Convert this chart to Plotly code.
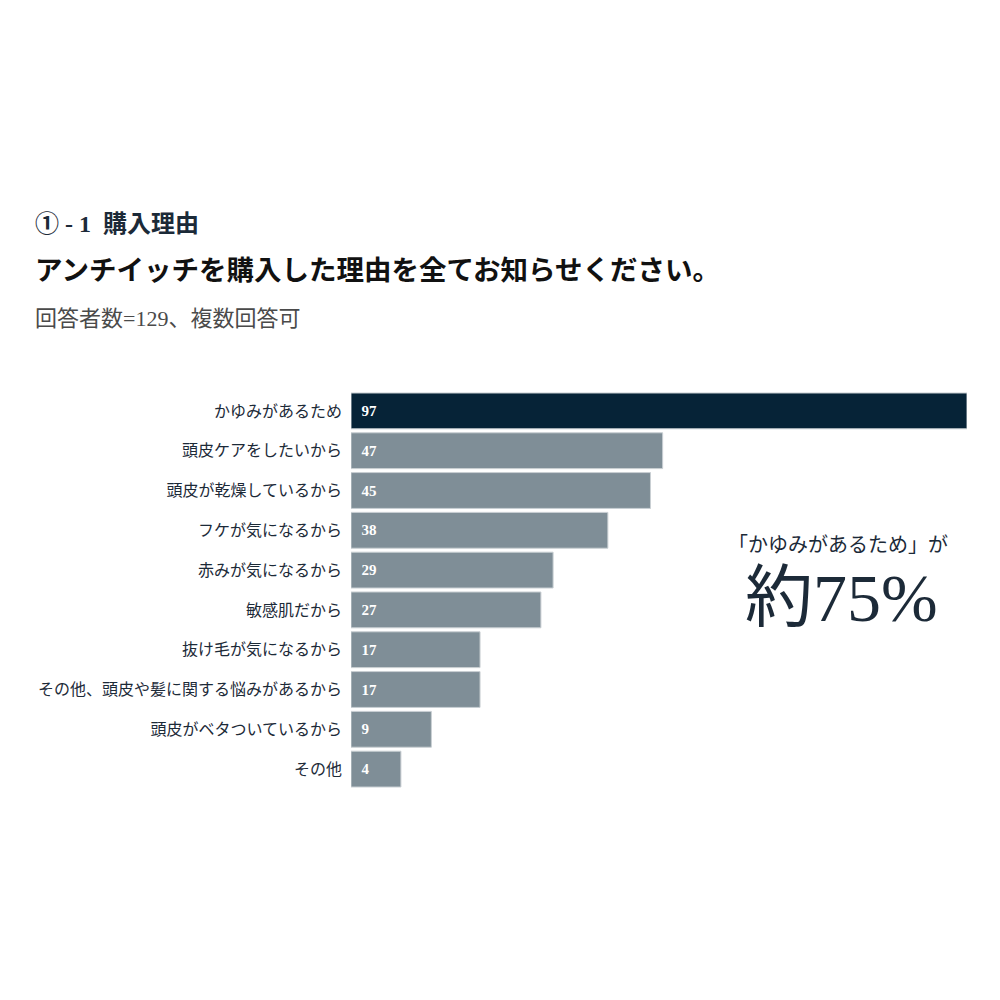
import plotly.graph_objects as go

reasons = [
    "かゆみがあるため",
    "頭皮ケアをしたいから",
    "頭皮が乾燥しているから",
    "フケが気になるから",
    "赤みが気になるから",
    "敏感肌だから",
    "抜け毛が気になるから",
    "その他、頭皮や髪に関する悩みがあるから",
    "頭皮がベタついているから",
    "その他",
]
counts = [97, 47, 45, 38, 29, 27, 17, 17, 9, 4]
respondents = 129
highlight_share = "約75%"

serif = "Liberation Serif, Noto Sans CJK JP, serif"
navy = "#062337"
gray = "#7f8e97"
text_color = "#1c2a38"

colors = [navy] + [gray] * (len(counts) - 1)
axis_start = -4.2

# page body has an 8px margin, so layout is shifted by that much
L, R, T, B = 343, 41, 383, 219

fig = go.Figure(
    go.Bar(
        x=[c - axis_start for c in counts],
        base=[axis_start] * len(counts),
        y=reasons,
        orientation="h",
        marker=dict(color=colors, line=dict(color="#c9cfd3", width=1)),
        text=[str(c) for c in counts],
        texttemplate="\u00a0\u00a0<b>%{text}</b>",
        textposition="inside",
        insidetextanchor="start",
        textfont=dict(family=serif, size=15, color="#ffffff"),
        hoverinfo="skip",
        cliponaxis=False,
    )
)

fig.update_layout(
    width=1000,
    height=1000,
    template=None,
    paper_bgcolor="#ffffff",
    plot_bgcolor="#ffffff",
    showlegend=False,
    bargap=0.1,
    margin=dict(l=L, r=R, t=T, b=B),
    xaxis=dict(range=[axis_start, 97], visible=False, fixedrange=True),
    yaxis=dict(
        autorange="reversed",
        showline=False,
        showgrid=False,
        zeroline=False,
        ticks="",
        ticklabelstandoff=8,
        tickfont=dict(family=serif, size=16, color=text_color),
        fixedrange=True,
    ),
    annotations=[
        dict(
            text="<b>①\u00a0-\u00a01\u00a0\u00a0購入理由</b>",
            x=25, y=216, showarrow=False,
            xanchor="left", yanchor="middle",
            font=dict(family=serif, size=24, color=text_color),
        ),
        dict(
            text="<b>アンチイッチを購入した理由を全てお知らせください。</b>",
            x=25, y=262, showarrow=False,
            xanchor="left", yanchor="middle",
            font=dict(family=serif, size=27.5, color="#111111"),
        ),
        dict(
            text=f"回答者数={respondents}、複数回答可",
            x=25, y=310, showarrow=False,
            xanchor="left", yanchor="middle",
            font=dict(family=serif, size=22, color="#4a4a4a"),
        ),
        dict(
            text=f"「{reasons[0]}」が",
            x=830, y=537, showarrow=False,
            xanchor="center", yanchor="middle",
            font=dict(family=serif, size=20, color=text_color),
        ),
        dict(
            text=highlight_share,
            x=833, y=590, showarrow=False,
            xanchor="center", yanchor="middle",
            font=dict(family=serif, size=68, color=text_color),
        ),
    ],
)

# annotation positions above are given in pixels; convert to paper coords
for ann in fig.layout.annotations:
    ann.xref = "paper"
    ann.yref = "paper"
    px, py = ann.x, ann.y
    ann.x = (px - L) / (1000 - L - R)
    ann.y = 1 - (py - T) / (1000 - T - B)

fig.write_html("out.html")
